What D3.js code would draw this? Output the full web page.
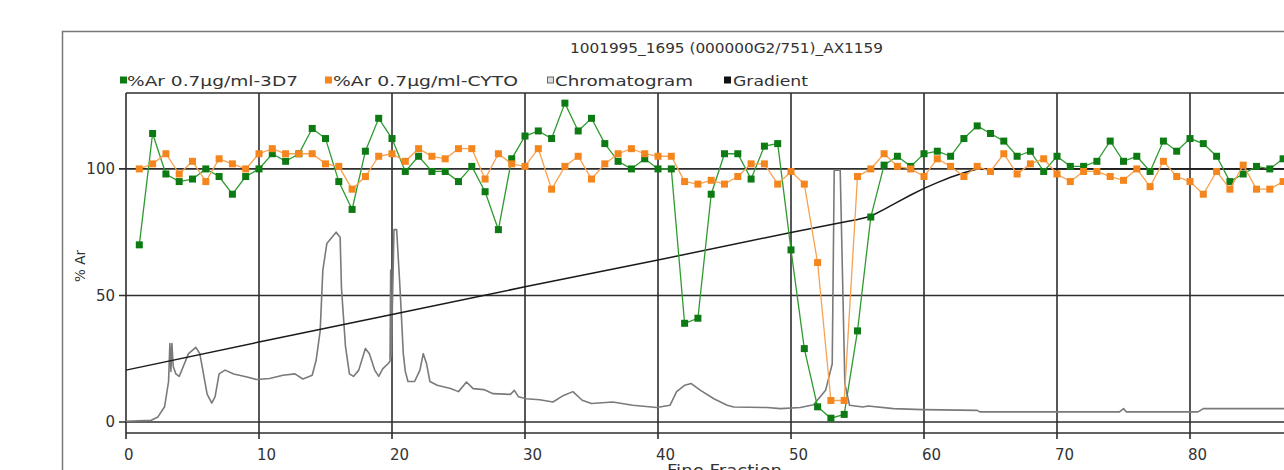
<!DOCTYPE html>
<html>
<head>
<meta charset="utf-8">
<script src="https://cdn.jsdelivr.net/npm/d3@7"></script>
<style>
  html, body { margin: 0; padding: 0; background: #fff; }
  svg { display: block; font-family: "DejaVu Sans", Verdana, sans-serif; }
</style>
</head>
<body>
<div id="chart"></div>
<script>
/* ── Data ──────────────────────────────────────────────────────────── */
const chartTitle = '1001995_1695 (000000G2/751)_AX1159';
const legendLabels = ['%Ar 0.7µg/ml-3D7', '%Ar 0.7µg/ml-CYTO', 'Chromatogram', 'Gradient'];
const xTicks = [0, 10, 20, 30, 40, 50, 60, 70, 80];
const yTicks = [0, 50, 100];

// fine fractions 1..87
const fractions = d3.range(1, 88);

const ar3D7 = [
  70, 114, 98, 95, 96, 100, 97, 90, 97, 100,
  106, 103, 106, 116, 112, 95, 84, 107, 120, 112,
  99, 105, 99, 99, 95, 101, 91, 76, 104, 113,
  115, 112, 126, 115, 120, 110, 103, 100, 104, 100,
  100, 39, 41, 90, 106, 106, 96, 109, 110, 68,
  29, 6, 1.5, 3, 36, 81, 101.5, 105, 101, 106,
  107, 105, 112, 117, 114, 111, 105, 107, 99, 105,
  101, 101, 103, 111, 103, 105, 99, 111, 107, 112,
  110, 105, 95, 98, 101, 100, 104
];

const arCyto = [
  100, 102, 106, 98, 103, 95, 104, 102, 100, 106,
  108, 106, 106, 106, 102, 101, 92, 97, 105, 106,
  103, 108, 105, 104, 108, 108, 96, 106, 102, 101,
  108, 92, 101, 105, 96, 102, 106, 108, 106, 105,
  105, 95, 94, 95.5, 94, 97, 102, 102, 94, 99,
  94, 63, 8.5, 8.5, 97, 100, 106, 101, 100, 97,
  104, 101, 97, 101, 99, 106, 98, 102, 104, 98,
  95, 99, 99, 97, 95.5, 100, 93, 103, 97, 95,
  90, 99, 92, 101.5, 92, 92, 95
];

// [fraction, value]
const chromatogram = [
  [0, 0.3], [1.9, 0.7], [2.4, 2], [2.9, 6], [3.2, 16], [3.3, 31], [3.38, 20], [3.45, 31],
  [3.55, 22], [3.75, 19], [4.0, 18], [4.7, 27], [5.25, 29.5], [5.55, 27], [6.1, 11],
  [6.45, 7.5], [6.7, 10], [7.0, 19], [7.45, 20.5], [8.1, 19], [9.1, 17.8], [9.8, 16.8],
  [10.8, 17.2], [11.8, 18.5], [12.7, 19], [13.3, 17], [14.0, 18.5], [14.3, 24.5],
  [14.6, 36], [14.8, 60], [15.1, 70.5], [15.8, 75], [16.1, 73], [16.2, 53], [16.5, 30],
  [16.8, 19], [17.1, 18], [17.5, 20.5], [18.0, 29], [18.3, 27], [18.7, 20.5], [19.0, 18],
  [19.3, 21], [19.7, 23], [19.85, 24], [19.9, 60], [19.95, 26], [20.15, 76], [20.35, 76],
  [20.6, 53], [20.85, 27], [21.0, 20], [21.2, 16], [21.7, 16], [22.1, 20.5], [22.35, 27],
  [22.6, 23], [22.85, 16], [23.4, 14.5], [24.4, 13.2], [25.0, 12], [25.6, 15.8],
  [26.1, 13.2], [26.9, 12.8], [27.6, 11.2], [28.9, 10.9], [29.2, 12.5], [29.5, 10],
  [30.1, 9.2], [31.1, 8.8], [32.1, 7.9], [32.9, 10.5], [33.6, 12], [34.3, 8.6], [35.0, 7.3],
  [36.6, 7.9], [38.1, 6.6], [39.9, 5.7], [40.9, 6.6], [41.4, 12], [42.0, 14.5], [42.5, 15.2],
  [43.2, 12.5], [44.2, 9.2], [45.2, 6.6], [45.7, 5.9], [48.2, 5.7], [49.2, 5.3], [50.7, 5.7],
  [51.7, 6.8], [52.6, 12.5], [53.1, 23], [53.25, 99.5], [53.7, 99.5], [54.05, 15], [54.4, 6.6],
  [55.4, 5.9], [55.8, 6.3], [57.7, 5.3], [59.9, 4.9], [64.0, 4.6], [64.2, 4], [74.7, 4],
  [75.0, 5.3], [75.2, 4], [80.0, 4], [80.6, 4], [81.0, 5.3], [87.0, 5.3], [90, 5.3]
];

const gradient = [
  [0, 20.5], [10, 31.6], [20, 42.5], [30, 53.4], [40, 64], [50, 74.9], [54, 79], [55, 80],
  [56, 81.3], [57, 84], [58, 86.9], [59, 89.7], [60, 92.3], [61, 94.6], [62, 96.7],
  [63, 98.5], [64, 100], [90, 100]
];

/* ── Layout ─────────────────────────────────────────────────────────── */
const W = 1284, H = 470;
const plot = { left: 126, top: 93, bottom: 433 };
const GREEN = '#2f9b2f', GREEN_MK = '#0e7a14';
const ORANGE = '#f6a24f', ORANGE_MK = '#f4861d';
const GRID = '#2e2e2e', TEXT = '#333';

const svg = d3.select('#chart').append('svg')
  .attr('width', W).attr('height', H)
  .attr('viewBox', `0 0 ${W} ${H}`);

const x = d3.scaleLinear().domain([0, 90]).range([plot.left, plot.left + 90 * 13.3]);
const y = d3.scaleLinear().domain([-4.35, 130]).range([plot.bottom, plot.top]);

// helper: text stretched to a target width (the reference is horizontally stretched)
function label(g, str, px, py, width, opts = {}) {
  const t = g.append('text')
    .attr('x', px).attr('y', py)
    .attr('fill', TEXT)
    .attr('font-size', opts.size || 14)
    .attr('text-anchor', opts.anchor || 'start')
    .text(str);
  if (width) t.attr('textLength', width).attr('lengthAdjust', 'spacingAndGlyphs');
  return t;
}

/* ── Outer frame ────────────────────────────────────────────────────── */
svg.append('rect')
  .attr('x', 62.5).attr('y', 31.5)
  .attr('width', 1400).attr('height', 600)
  .attr('fill', 'none').attr('stroke', '#777').attr('stroke-width', 1.5);

/* ── Title & legend ─────────────────────────────────────────────────── */
label(svg, chartTitle, 570, 53, 313, { size: 14 });

const legendItems = [
  { text: legendLabels[0], mx: 123.5, tx: 127, tw: 171, fill: GREEN_MK, stroke: GREEN_MK },
  { text: legendLabels[1], mx: 328.5, tx: 333, tw: 185, fill: ORANGE_MK, stroke: ORANGE_MK },
  { text: legendLabels[2], mx: 550.5, tx: 555, tw: 138, fill: '#ddd', stroke: '#666' },
  { text: legendLabels[3], mx: 727.5, tx: 733, tw: 75, fill: '#111', stroke: '#111' }
];
legendItems.forEach(d => {
  svg.append('rect')
    .attr('x', d.mx - 3).attr('y', 77).attr('width', 6).attr('height', 6)
    .attr('fill', d.fill).attr('stroke', d.stroke).attr('stroke-width', 1);
  label(svg, d.text, d.tx, 85.5, d.tw, { size: 14 });
});

/* ── Grid & axes ────────────────────────────────────────────────────── */
const grid = svg.append('g');

xTicks.forEach(v => {
  grid.append('line')
    .attr('x1', x(v)).attr('x2', x(v))
    .attr('y1', plot.top).attr('y2', plot.bottom + 6)
    .attr('stroke', GRID).attr('stroke-width', 1.6);
  label(grid, String(v), x(v) - 2, 460, null, { size: 15 });
});

yTicks.forEach(v => {
  grid.append('line')
    .attr('x1', plot.left - 7).attr('x2', W + 10)
    .attr('y1', y(v)).attr('y2', y(v))
    .attr('stroke', GRID).attr('stroke-width', 1.6);
  label(grid, String(v), 115, y(v) + 5.5, null, { size: 15, anchor: 'end' });
});

// plot top border and bottom axis line
[plot.top, plot.bottom].forEach(py => {
  grid.append('line')
    .attr('x1', plot.left).attr('x2', W + 10)
    .attr('y1', py).attr('y2', py)
    .attr('stroke', GRID).attr('stroke-width', 1.6);
});

// axis titles
label(svg, '% Ar', 0, 0, 32, { size: 14, anchor: 'middle' })
  .attr('transform', 'translate(85,266) rotate(-90)');
label(svg, 'Fine Fraction', 667, 476, 115, { size: 15 });

/* ── Series ─────────────────────────────────────────────────────────── */
const plotArea = svg.append('g');

const pairLine = d3.line().x(d => x(d[0])).y(d => y(d[1]));

plotArea.append('path').datum(chromatogram)
  .attr('d', pairLine)
  .attr('fill', 'none').attr('stroke', '#7a7a7a')
  .attr('stroke-width', 1.6).attr('stroke-linejoin', 'round');

plotArea.append('path').datum(gradient)
  .attr('d', pairLine)
  .attr('fill', 'none').attr('stroke', '#1a1a1a')
  .attr('stroke-width', 1.5);

function drawSeries(values, lineColor, markColor) {
  const pts = fractions.map((f, i) => [f, values[i]]);
  plotArea.append('path').datum(pts)
    .attr('d', pairLine)
    .attr('fill', 'none').attr('stroke', lineColor).attr('stroke-width', 1.3);
  plotArea.selectAll(null).data(pts).enter().append('rect')
    .attr('x', d => x(d[0]) - 3.5).attr('y', d => y(d[1]) - 3.5)
    .attr('width', 7).attr('height', 7)
    .attr('fill', markColor);
}

drawSeries(ar3D7, GREEN, GREEN_MK);
drawSeries(arCyto, ORANGE, ORANGE_MK);
</script>
</body>
</html>
